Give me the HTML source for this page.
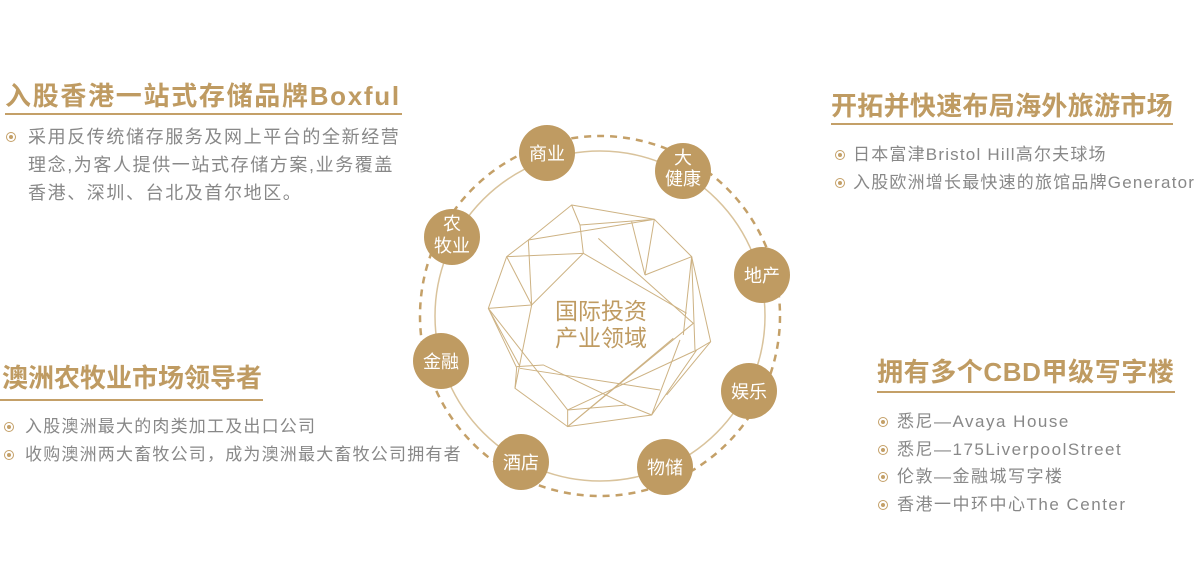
<!DOCTYPE html>
<html><head><meta charset="utf-8"><style>
body{margin:0;width:1200px;height:571px;background:#fff;position:relative;overflow:hidden;font-family:"Liberation Sans","Noto Sans CJK SC",sans-serif;}
.t{position:absolute;color:#bf9b62;font-weight:bold;font-size:26px;letter-spacing:0px;line-height:30px;white-space:nowrap;}
.u{position:absolute;height:2px;background:#c4a068;}
.b{position:absolute;color:#888;font-size:17px;letter-spacing:1.2px;line-height:28px;white-space:nowrap;}
.b i{position:absolute;width:8px;height:8px;border:1.5px solid #c4a068;border-radius:50%;box-sizing:content-box;}
.b i:after{content:"";position:absolute;left:2px;top:2px;width:4px;height:4px;border-radius:50%;background:#c4a068;}
</style></head><body>
<div class="t" style="left:5px;top:81px;letter-spacing:1.7px">入股香港一站式存储品牌Boxful</div>
<div class="u" style="left:5px;top:113px;width:397px"></div>
<div class="b" style="left:28px;top:123px;font-size:18px;letter-spacing:1.6px">采用反传统储存服务及网上平台的全新经营<br>理念,为客人提供一站式存储方案,业务覆盖<br>香港、深圳、台北及首尔地区。</div>
<div class="b" style="left:6px;top:123px"><i style="left:0;top:9px"></i></div>

<div class="t" style="left:2px;top:363px">澳洲农牧业市场领导者</div>
<div class="u" style="left:0;top:399px;width:263px"></div>
<div class="b" style="left:25px;top:413px">入股澳洲最大的肉类加工及出口公司<br>收购澳洲两大畜牧公司，成为澳洲最大畜牧公司拥有者</div>
<div class="b" style="left:4px;top:413px"><i style="left:0;top:9px"></i><i style="left:0;top:37px"></i></div>

<div class="t" style="left:831px;top:91px;letter-spacing:0.3px">开拓并快速布局海外旅游市场</div>
<div class="u" style="left:831px;top:123px;width:342px"></div>
<div class="b" style="left:853px;top:141px">日本富津Bristol Hill高尔夫球场<br>入股欧洲增长最快速的旅馆品牌Generator</div>
<div class="b" style="left:835px;top:141px"><i style="left:0;top:9px"></i><i style="left:0;top:37px"></i></div>

<div class="t" style="left:877px;top:357px;letter-spacing:0.6px">拥有多个CBD甲级写字楼</div>
<div class="u" style="left:877px;top:391px;width:298px"></div>
<div class="b" style="left:897px;top:408px;line-height:27.6px;letter-spacing:1.5px">悉尼—Avaya House<br>悉尼—175LiverpoolStreet<br>伦敦—金融城写字楼<br>香港一中环中心The Center</div>
<div class="b" style="left:878px;top:408px;line-height:27.6px"><i style="left:0;top:9px"></i><i style="left:0;top:37px"></i><i style="left:0;top:64px"></i><i style="left:0;top:92px"></i></div>

<svg width="1200" height="571" style="position:absolute;left:0;top:0">
<circle cx="600" cy="316" r="180" fill="none" stroke="#c4a068" stroke-width="2.5" stroke-dasharray="7 6"/>
<circle cx="600" cy="316" r="165" fill="none" stroke="#d9c39c" stroke-width="1.5"/>
<g transform="translate(480,195) scale(0.3333)" fill="none" stroke="#cdb283" stroke-width="3">
<polygon points="275,30 523,73 635,185 692,440 650,465 515,660 263,695 105,580 110,518 25,340 80,185 145,135"/>
<polyline points="275,30 300,90 310,175"/>
<line x1="300" y1="90" x2="523" y2="73"/>
<line x1="145" y1="135" x2="523" y2="73"/>
<line x1="80" y1="185" x2="310" y2="175"/>
<line x1="355" y1="130" x2="640" y2="385"/>
<line x1="455" y1="80" x2="495" y2="240"/>
<line x1="523" y1="73" x2="495" y2="240"/>
<line x1="495" y1="240" x2="635" y2="185"/>
<line x1="635" y1="185" x2="645" y2="465"/>
<line x1="145" y1="135" x2="155" y2="330"/>
<line x1="25" y1="340" x2="155" y2="330"/>
<line x1="80" y1="185" x2="155" y2="330"/>
<line x1="155" y1="330" x2="105" y2="580"/>
<line x1="310" y1="175" x2="155" y2="330"/>
<line x1="25" y1="340" x2="263" y2="645"/>
<line x1="25" y1="340" x2="120" y2="515"/>
<polyline points="110,515 190,510 440,630"/>
<line x1="120" y1="520" x2="540" y2="585"/>
<line x1="263" y1="645" x2="650" y2="465"/>
<line x1="263" y1="695" x2="640" y2="385"/>
<line x1="263" y1="645" x2="263" y2="695"/>
<line x1="263" y1="645" x2="440" y2="630"/>
<line x1="440" y1="630" x2="515" y2="660"/>
<line x1="600" y1="435" x2="515" y2="660"/>
<line x1="263" y1="695" x2="580" y2="430"/>
<line x1="635" y1="185" x2="610" y2="420"/>
<line x1="692" y1="440" x2="560" y2="600"/>
<line x1="310" y1="175" x2="620" y2="355"/>
</g>
<g fill="#bf9b62">
<circle cx="547" cy="153" r="28"/><circle cx="683" cy="171" r="28"/>
<circle cx="452" cy="237" r="28"/><circle cx="762" cy="275" r="28"/>
<circle cx="441" cy="361" r="28"/><circle cx="749" cy="391" r="28"/>
<circle cx="521" cy="462" r="28"/><circle cx="665" cy="467" r="28"/>
</g>
<g fill="#fff" font-family="Liberation Sans,Noto Sans CJK SC,sans-serif" font-size="18" text-anchor="middle">
<text x="547" y="160">商业</text>
<text x="683" y="164">大</text><text x="683" y="185">健康</text>
<text x="452" y="230">农</text><text x="452" y="252">牧业</text>
<text x="762" y="282">地产</text>
<text x="441" y="368">金融</text>
<text x="749" y="398">娱乐</text>
<text x="521" y="469">酒店</text>
<text x="665" y="474">物储</text>
</g>
<g fill="#bf9b62" font-family="Liberation Sans,Noto Sans CJK SC,sans-serif" font-size="23" text-anchor="middle">
<text x="601" y="319">国际投资</text>
<text x="601" y="346">产业领域</text>
</g>
</svg>
</body></html>
